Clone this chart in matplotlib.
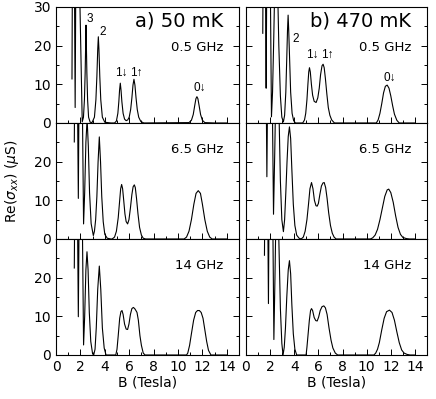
import matplotlib
matplotlib.use("Agg")
import matplotlib.pyplot as plt
from matplotlib.ticker import MultipleLocator

# ---- data: B (Tesla), Re(sigma_xx) (uS) ----
# values above 30 are off-scale peaks (clipped by the axes)

# a) 50 mK, 0.5 GHz
b_a1 = [1.31, 1.37, 1.47, 1.57, 1.66, 1.78, 2.15, 2.25, 2.33, 2.39, 2.43, 2.46, 2.49, 2.53, 2.59,
        2.67, 2.8, 2.95, 3.15, 3.27, 3.35, 3.42, 3.47, 3.52, 3.59, 3.67, 3.8, 4.0, 4.5,
        4.8, 4.95, 5.07, 5.15, 5.21, 5.27, 5.33, 5.40, 5.5, 5.62, 5.75, 5.88, 6.0, 6.12,
        6.22, 6.31, 6.39, 6.47, 6.56, 6.66, 6.78, 6.95, 7.2, 10.9, 11.1, 11.25, 11.37,
        11.47, 11.55, 11.63, 11.73, 11.85, 12.0, 12.2, 13.0, 14.0]
s_a1 = [11.4, 60, 60, 4.0, 60, 60, 0.3, 1.5, 6, 13, 20, 25.3, 20, 13, 6,
        1.5, 0.2, 0.1, 1.5, 6, 12, 19, 22.3, 19, 12, 6, 1.5, 0.2, 0,
        0, 0.5, 2.5, 5.5, 8.5, 10.3, 8.5, 5.5, 2.5, 1.0, 0.6, 0.8, 1.5, 3.5,
        6.5, 9.8, 11.3, 9.8, 6.5, 3.5, 1.5, 0.4, 0, 0.1, 0.7, 2.2, 4.5,
        6.3, 6.8, 6.3, 4.5, 2.2, 0.7, 0.1, 0, 0]

# a) 50 mK, 6.5 GHz
b_a2 = [1.5, 1.58, 1.7, 1.83, 1.93, 2.08, 2.26, 2.35, 2.45, 2.55, 2.65, 2.75, 2.88, 3.06,
        3.15, 3.25, 3.35, 3.45, 3.55, 3.65, 3.75, 3.87, 4.0, 4.2, 4.5,
        4.6, 4.8, 4.95, 5.1, 5.22, 5.3, 5.38, 5.46, 5.55, 5.65, 5.75, 5.87, 5.98, 6.1,
        6.22, 6.32, 6.42, 6.5, 6.6, 6.72, 6.85, 7.0, 7.15, 7.35,
        10.5, 10.7, 10.9, 11.1, 11.3, 11.48, 11.66, 11.84, 12.0, 12.2, 12.4, 12.6, 12.8, 14.0]
s_a2 = [25.1, 60, 60, 10.5, 60, 60, 3.9, 12, 25, 31, 24, 12, 4, 0.9,
        2, 5, 11, 20, 26.4, 20, 11, 4.5, 1.2, 0.2, 0,
        0, 0.5, 2, 5.5, 10, 13, 14.1, 13, 10, 6.5, 4.5, 3.9, 5, 8,
        11.5, 13.5, 14.0, 13.3, 10.5, 6.5, 3, 1, 0.2, 0,
        0, 0.5, 2, 5, 9, 11.8, 12.5, 11.8, 9, 5, 2, 0.5, 0, 0]

# a) 50 mK, 14 GHz
b_a3 = [1.5, 1.58, 1.7, 1.83, 1.95, 2.08, 2.26, 2.35, 2.45, 2.54, 2.63, 2.73, 2.85, 3.0,
        3.09, 3.2, 3.3, 3.42, 3.55, 3.67, 3.8, 3.95, 4.1, 4.9,
        5.0, 5.1, 5.22, 5.32, 5.41, 5.5, 5.62, 5.75, 5.87, 5.98, 6.1, 6.22, 6.34, 6.45,
        6.55, 6.64, 6.75, 6.88, 7.0, 7.15, 7.3, 10.7, 10.8, 10.95, 11.1, 11.28, 11.45,
        11.6, 11.75, 11.9, 12.05, 12.2, 12.35, 12.5, 12.7, 14.0]
s_a3 = [22.5, 60, 60, 9.9, 60, 60, 2.6, 10, 22, 26.7, 22, 11, 3.5, 0.3,
        0, 1.5, 7, 17, 23, 17, 7, 1.8, 0, 0,
        1.5, 5, 9.5, 11.2, 11.5, 10.5, 8, 6.7, 6.6, 8, 10.5, 12, 12.3, 12,
        11.5, 11, 9, 5, 2.5, 0.5, 0, 0, 0.5, 2.5, 5.5, 9, 11,
        11.5, 11.5, 11, 9.5, 6.5, 3.5, 1.2, 0, 0]

# b) 470 mK, 0.5 GHz
b_b1 = [1.39, 1.45, 1.56, 1.67, 1.76, 1.95, 2.11, 2.2, 2.3, 2.38, 2.5, 2.62, 2.72, 2.85, 2.97,
        3.1, 3.2, 3.3, 3.38, 3.44, 3.49, 3.54, 3.61, 3.7, 3.82, 3.95, 4.1,
        4.7, 4.85, 4.95, 5.05, 5.13, 5.2, 5.26, 5.33, 5.42, 5.52, 5.65, 5.81, 5.95, 6.07,
        6.18, 6.3, 6.39, 6.48, 6.58, 6.7, 6.82, 6.95, 7.1, 7.33,
        10.8, 10.95, 11.1, 11.25, 11.4, 11.55, 11.7, 11.85, 12.0, 12.15, 12.3, 12.5, 12.7, 14.0]
s_b1 = [23.2, 60, 60, 9.0, 60, 60, 1.6, 8, 22, 35, 45, 35, 20, 7, 1.5,
        0.3, 2, 8, 17, 24, 27.9, 24, 17, 8, 2.5, 0.6, 0,
        0, 0.8, 2.5, 6, 10, 13.2, 14.3, 13.2, 10, 7.2, 5.6, 5.3, 6.5, 9,
        12.5, 14.8, 15.2, 14.3, 11.5, 7.5, 4, 2, 0.8, 0,
        0, 0.8, 2.5, 5, 7.8, 9.5, 9.8, 9, 7, 4.5, 2.3, 0.7, 0, 0]

# b) 470 mK, 6.5 GHz
b_b2 = [1.62, 1.73, 1.85, 2.1, 2.28, 2.38, 2.48, 2.6, 2.72, 2.85, 2.97, 3.1,
        3.2, 3.3, 3.4, 3.5, 3.6, 3.7, 3.8, 3.92, 4.05, 4.2, 4.4, 4.57,
        4.75, 4.9, 5.05, 5.18, 5.3, 5.43, 5.55, 5.67, 5.8, 5.9, 6.0, 6.12, 6.25, 6.38,
        6.48, 6.6, 6.72, 6.85, 7.0, 7.15, 7.3, 7.47,
        10.3, 10.5, 10.7, 10.9, 11.1, 11.3, 11.5, 11.7, 11.83, 12.0, 12.2, 12.4, 12.6,
        12.8, 13.0, 13.3, 13.55, 14.0]
s_b2 = [60, 16.1, 60, 60, 6.4, 22, 40, 50, 35, 15, 5, 1.9,
        5, 12, 20, 26.5, 29, 26, 18, 9, 3.5, 1, 0.2, 0,
        0.5, 2, 5, 9, 13, 14.6, 13, 10, 8.6, 8.5, 9.2, 11.5, 13.7, 14.5,
        14.6, 13.3, 10.5, 6.8, 3.5, 1.5, 0.5, 0,
        0, 0.3, 1, 2.5, 5, 8, 11, 12.7, 12.9, 12, 9.5, 6, 3,
        1.2, 0.4, 0.1, 0, 0]

# b) 470 mK, 14 GHz
b_b3 = [1.53, 1.6, 1.75, 1.86, 1.95, 2.15, 2.31, 2.4, 2.5, 2.6, 2.72, 2.85, 2.97, 3.07,
        3.17, 3.27, 3.38, 3.5, 3.6, 3.7, 3.8, 3.92, 4.05, 4.2, 4.98,
        5.05, 5.15, 5.25, 5.35, 5.43, 5.52, 5.65, 5.78, 5.9, 6.02, 6.15, 6.3, 6.45,
        6.58, 6.72, 6.88, 7.05, 7.2, 7.4, 7.6,
        10.6, 10.75, 10.9, 11.05, 11.25, 11.45, 11.65, 11.89, 12.1, 12.3, 12.5, 12.7,
        12.9, 13.1, 13.35, 13.6, 14.0]
s_b3 = [25.8, 60, 60, 13.3, 60, 60, 4.0, 20, 40, 45, 30, 12, 3, 0,
        2, 7, 15, 22, 24.4, 21, 13, 5.5, 1.5, 0, 0,
        2, 5.5, 9, 11.5, 12.0, 11.5, 9.7, 8.9, 8.8, 9.8, 11.5, 12.5, 12.7,
        12.2, 10.5, 7, 3.8, 1.8, 0.5, 0,
        0, 0.5, 1.5, 3.2, 6.5, 9.5, 11.2, 11.6, 11, 9, 6, 3.2,
        1.3, 0.5, 0.15, 0, 0]

temps = ["a) 50 mK", "b) 470 mK"]
freqs = ["0.5 GHz", "6.5 GHz", "14 GHz"]
curves = [[(b_a1, s_a1), (b_a2, s_a2), (b_a3, s_a3)],
          [(b_b1, s_b1), (b_b2, s_b2), (b_b3, s_b3)]]

# peak labels on the top panels
lab_a = [("3", 2.73, 26.9), ("2", 3.82, 23.6), ("1\u2193", 5.38, 13.0),
         ("1\u2191", 6.62, 13.0), ("0\u2193", 11.75, 9.0)]
lab_b = [("2", 4.08, 21.6), ("1\u2193", 5.48, 17.6),
         ("1\u2191", 6.72, 17.6), ("0\u2193", 11.9, 11.7)]

W, H = 436, 399
fig = plt.figure(figsize=(W / 100, H / 100), dpi=100)

col_x = [56 / W, 246 / W]
col_w = [183 / W, 181 / W]
row_top = [7, 123, 239]
row_h = 116

for c in range(2):
    for r in range(3):
        ax = fig.add_axes([col_x[c], 1 - (row_top[r] + row_h) / H, col_w[c], row_h / H])
        bb, ss = curves[c][r]
        ax.plot(bb, ss, color="black", lw=0.8)
        ax.set_xlim(0, 15)
        ax.set_ylim(0, 30)
        ax.xaxis.set_minor_locator(MultipleLocator(1))
        ax.yaxis.set_minor_locator(MultipleLocator(5))
        ax.set_xticks(range(0, 15, 2))
        ax.set_yticks([0, 10, 20, 30] if r == 0 else [0, 10, 20])
        ax.tick_params(which="both", direction="in", right=True, top=False,
                       labelsize=10, width=0.7)
        ax.tick_params(which="major", length=4)
        ax.tick_params(which="minor", length=2)
        for sp in ax.spines.values():
            sp.set_linewidth(0.8)
        if c == 1:
            ax.tick_params(labelleft=False)
        if r < 2:
            ax.tick_params(labelbottom=False)
        else:
            ax.set_xlabel("B (Tesla)", fontsize=10, labelpad=1)
        ypos = 0.655 if r == 0 else 0.77
        ax.text(0.913, ypos, freqs[r], transform=ax.transAxes, ha="right",
                va="center", fontsize=9.5)
        if r == 0:
            ax.text(0.913, 0.88, temps[c], transform=ax.transAxes, ha="right",
                    va="center", fontsize=14)
            for t, x, y in (lab_a if c == 0 else lab_b):
                ax.text(x, y, t, ha="center", va="center", fontsize=8.5,
                        family=["Liberation Sans", "DejaVu Sans"])

fig.text(12 / W, 1 - 181 / H, r"Re($\sigma_{xx}$) ($\mu$S)", rotation=90,
         ha="center", va="center", fontsize=10)

fig.savefig("out.png", dpi=100)
